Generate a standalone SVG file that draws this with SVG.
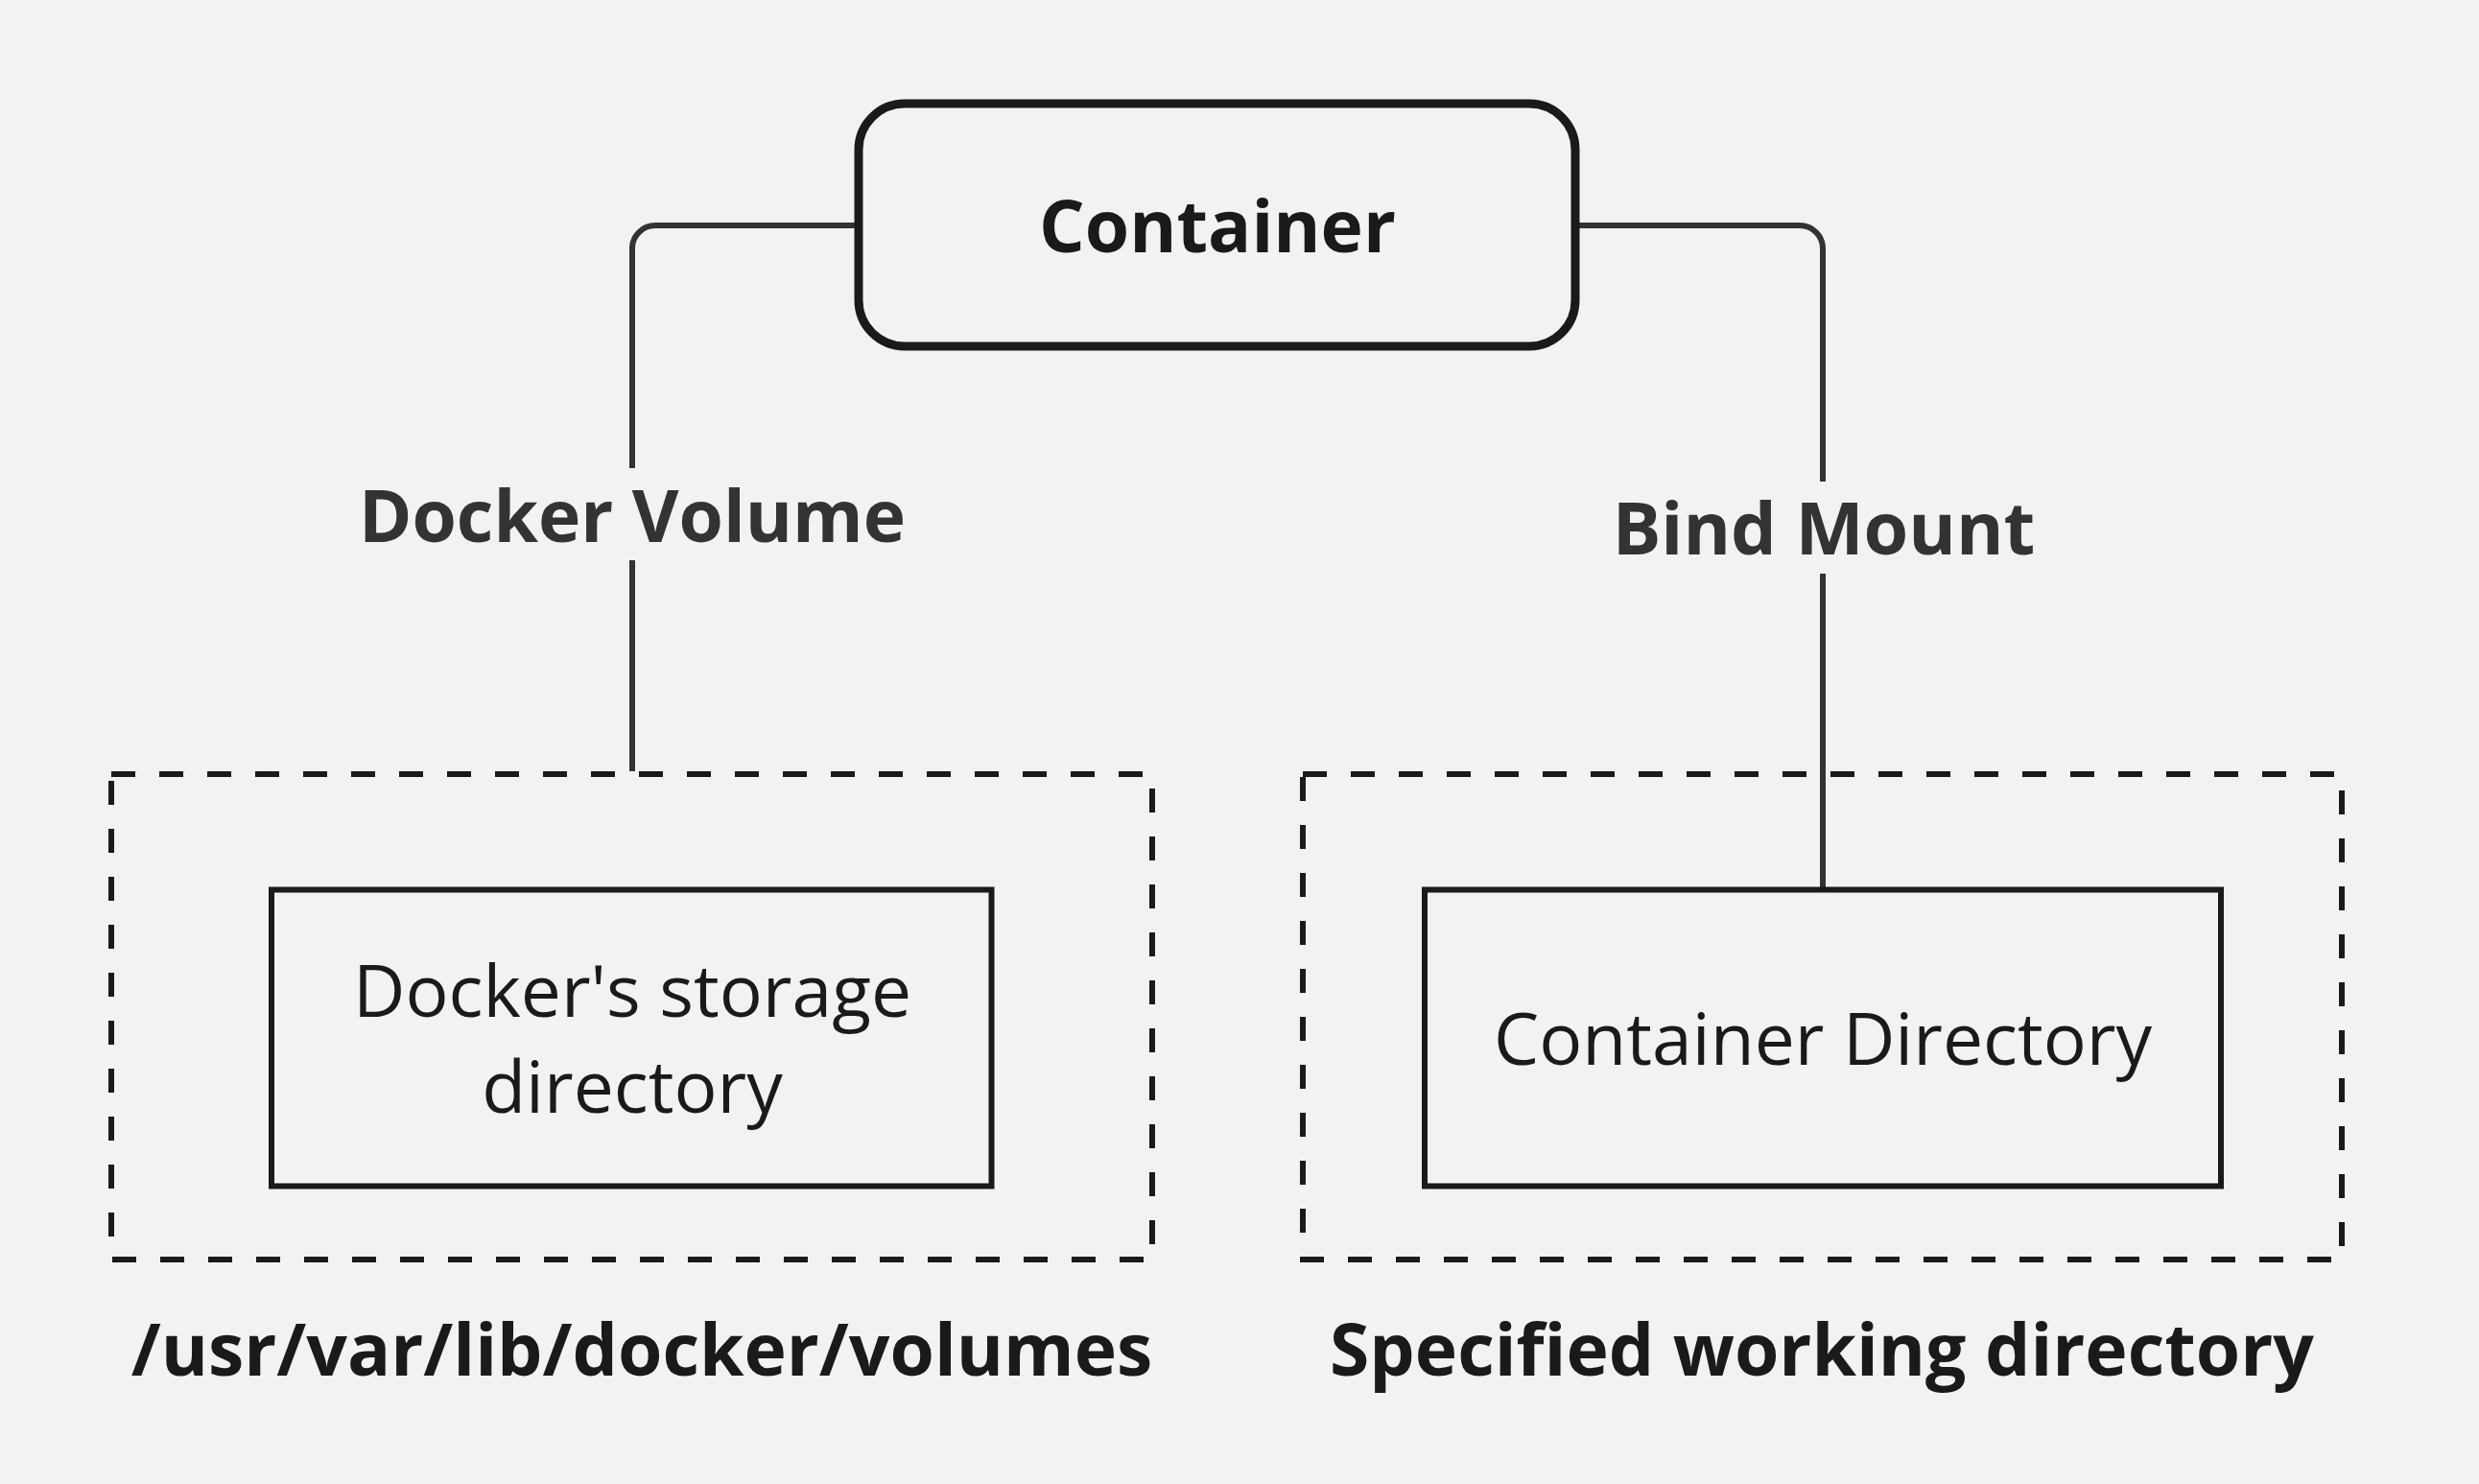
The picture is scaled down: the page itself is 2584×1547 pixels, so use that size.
<svg xmlns="http://www.w3.org/2000/svg" width="2584" height="1547" viewBox="0 0 2584 1547">
<style>
.bg{fill:#f2f2f2}
.conn{fill:none;stroke:#333333;stroke-width:6}
.main{fill:#f2f2f2;stroke:#1a1a1a;stroke-width:9}
.dash{fill:none;stroke:#1a1a1a;stroke-width:6;stroke-dasharray:25 25}
.inner{fill:#f2f2f2;stroke:#1a1a1a;stroke-width:6}
.t{font-family:"Open Sans","Noto Sans","Liberation Sans",sans-serif;text-anchor:middle}
.b{font-weight:700}
.dark{fill:#1a1a1a}
.lbl{fill:#333333}
</style>
<rect class="bg" x="0" y="0" width="2584" height="1547"/>
<g id="connectors">
<path class="conn" d="M 895 235 H 683 A 24 24 0 0 0 659 259 V 488"/>
<path class="conn" d="M 659 584 V 804"/>
<path class="conn" d="M 1642 235 H 1876 A 24 24 0 0 1 1900 259 V 502"/>
<path class="conn" d="M 1900 598 V 925"/>
<text class="t b lbl" x="659" y="565" font-size="75">Docker Volume</text>
<text class="t b lbl" x="1901" y="578" font-size="75.5">Bind Mount</text>
</g>
<g id="container">
<rect class="main" x="895" y="108" width="747" height="253" rx="48" ry="48"/>
<text class="t b dark" x="1269" y="263" font-size="75">Container</text>
</g>
<g id="volumes-area">
<rect class="dash" x="116" y="807" width="1085" height="506"/>
<text class="t b dark" x="669" y="1434" font-size="75">/usr/var/lib/docker/volumes</text>
</g>
<g id="docker-storage">
<rect class="inner" x="283" y="927.5" width="750.5" height="309"/>
<text class="t dark" x="659" y="1060" font-size="75">Docker's storage</text>
<text class="t dark" x="659" y="1160" font-size="75">directory</text>
</g>
<g id="working-dir-area">
<rect class="dash" x="1358" y="807" width="1083" height="506"/>
<text class="t b dark" x="1899" y="1434" font-size="75">Specified working directory</text>
</g>
<g id="container-directory">
<rect class="inner" x="1485" y="927.5" width="830" height="309"/>
<text class="t dark" x="1900" y="1110" font-size="75">Container Directory</text>
</g>
</svg>
